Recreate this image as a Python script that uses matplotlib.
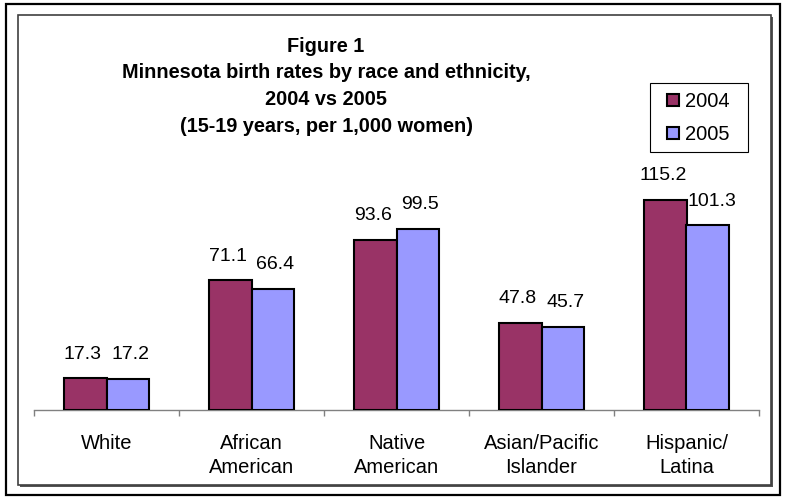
import matplotlib
matplotlib.use("Agg")
import matplotlib.pyplot as plt
from matplotlib.patches import Rectangle, Patch

plt.rcParams['font.family'] = ['Liberation Sans', 'DejaVu Sans']

# data
groups = ['White', 'African\nAmerican', 'Native\nAmerican', 'Asian/Pacific\nIslander', 'Hispanic/\nLatina']
rate_2004 = [17.3, 71.1, 93.6, 47.8, 115.2]
rate_2005 = [17.2, 66.4, 99.5, 45.7, 101.3]
years = ['2004', '2005']
colors = ['#993366', '#9999FF']

W, H = 785, 498
fig = plt.figure(figsize=(W / 100, H / 100), dpi=100)

def px_rect(x0, y0, x1, y1, z=-5, **kw):
    # rectangle given in pixel coords (top-left origin)
    r = Rectangle((x0 / W, 1 - y1 / H), (x1 - x0) / W, (y1 - y0) / H,
                  transform=fig.transFigure, zorder=z, **kw)
    fig.add_artist(r)
    return r

# outer black frame, chart area with shadow
px_rect(6, 4, 780, 495, fill=False, edgecolor='black', linewidth=1.6)
px_rect(19.5, 17, 773, 487, facecolor='#555555', edgecolor='none')
px_rect(17.5, 15, 771, 485, facecolor='white', edgecolor='#404040', linewidth=1.2)

ax = fig.add_axes([34 / W, 88 / H, 725 / W, 255 / H])
ax.set_facecolor('none')
x = list(range(len(groups)))
bw = 0.29
ymax = 140
b1 = ax.bar([i - bw / 2 for i in x], rate_2004, bw, color=colors[0], edgecolor='black', linewidth=1.5, zorder=3)
b2 = ax.bar([i + bw / 2 for i in x], rate_2005, bw, color=colors[1], edgecolor='black', linewidth=1.5, zorder=3)

off = 11.5  # points above the bar
off_data = off / 72 * 100 / (255 / ymax)
for rect, v in zip(b1, rate_2004):
    ax.annotate(f'{v:.1f}', (rect.get_x() + rect.get_width() / 2, v),
                xytext=(-2, off), textcoords='offset points',
                ha='center', va='bottom', fontsize=14)
for i, (rect, v) in enumerate(zip(b2, rate_2005)):
    if rate_2004[i] > v + off_data:
        # taller neighbour: push the label clear of it, like Excel did
        ax.annotate(f'{v:.1f}', (rect.get_x(), v), xytext=(1, off),
                    textcoords='offset points', ha='left', va='bottom', fontsize=14)
    else:
        ax.annotate(f'{v:.1f}', (rect.get_x() + rect.get_width() / 2, v),
                    xytext=(2, off), textcoords='offset points',
                    ha='center', va='bottom', fontsize=14)

ax.set_xlim(-0.5, len(groups) - 0.5)
ax.set_ylim(0, ymax)
for s in ('top', 'left', 'right'):
    ax.spines[s].set_visible(False)
ax.spines['bottom'].set_color('#808080')
ax.spines['bottom'].set_linewidth(1.0)
ax.set_yticks([])
ax.set_xticks([i - 0.5 for i in range(len(groups) + 1)])
ax.set_xticklabels([])
ax.set_xticks(x, minor=True)
ax.set_xticklabels(groups, minor=True, fontsize=14.5, linespacing=1.38)
ax.tick_params(axis='x', which='major', direction='out', length=4, color='#808080', width=1.0)
ax.tick_params(axis='x', which='minor', length=0, pad=17)

title_lines = ['Figure 1', 'Minnesota birth rates by race and ethnicity,',
               '2004 vs 2005', '(15-19 years, per 1,000 women)']
for k, line in enumerate(title_lines):
    fig.text(326 / W, 1 - (46 + 26.7 * k) / H, line, ha='center', va='center',
             fontsize=14.3, fontweight='bold')

# legend: entries from matplotlib, frame drawn as a plain box
px_rect(650, 83, 748, 152, z=5, facecolor='white', edgecolor='black', linewidth=0.8)
handles = [Patch(facecolor=c, edgecolor='black', linewidth=1.5) for c in colors]
leg = fig.legend(handles, years, loc='upper left', bbox_to_anchor=(667 / W, 1 - 92 / H),
                 fontsize=14.5, frameon=False,
                 handlelength=0.6, handleheight=0.6, handletextpad=0.3,
                 labelspacing=0.7, borderpad=0, borderaxespad=0)
leg.set_zorder(6)

fig.savefig('out.png', dpi=100)
